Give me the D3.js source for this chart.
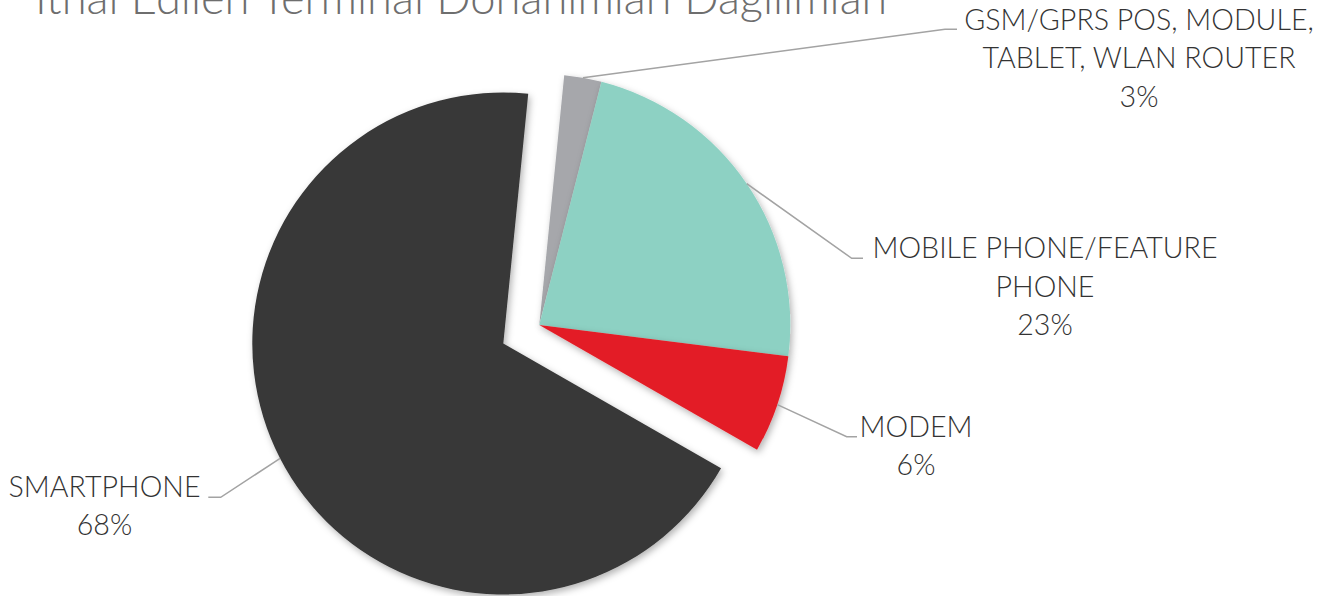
<!DOCTYPE html>
<html>
<head>
<meta charset="utf-8">
<script src="https://cdn.jsdelivr.net/npm/d3@7"></script>
<style>
  html, body { margin: 0; padding: 0; background: #ffffff; overflow: hidden; }
  svg { display: block; }
  text { font-family: Lato, "Open Sans", sans-serif; font-weight: 300; }
</style>
</head>
<body>
<svg id="chart" width="1337" height="596"></svg>
<script>
// ---- data ----
const titleText = "İthal Edilen Terminal Donanımları Dağılımları";
const categories = ["GSM/GPRS POS, MODULE, TABLET, WLAN ROUTER", "MOBILE PHONE/FEATURE PHONE", "MODEM", "SMARTPHONE"];
const labelLines = [
  ["GSM/GPRS POS, MODULE,", "TABLET, WLAN ROUTER"],
  ["MOBILE PHONE/FEATURE", "PHONE"],
  ["MODEM"],
  ["SMARTPHONE"]
];
const values = [2.4, 23.0, 6.3, 68.3];
const percentLabels = ["3%", "23%", "6%", "68%"];
const colors = ["#a6a7ab", "#8dd1c3", "#e31e26", "#373737"];
const exploded = [false, false, false, true];

// ---- layout ----
const svg = d3.select("#chart");
const cx = 539.3, cy = 325, radius = 251, explodeDist = 40.5;
const startOffset = 5.7 * Math.PI / 180;

const labelPos = [
  { x: 1139, y: 30,    elbow: [945, 29.3],  end: [957, 29.3] },
  { x: 1045, y: 258.3, elbow: [851.7, 258.3], end: [863, 258.3] },
  { x: 916,  y: 436.7, elbow: [846.7, 436.7], end: [857, 436.7] },
  { x: 104.5, y: 497,  elbow: [220.7, 497.3], end: [208.3, 497.3] }
];
const lineHeight = 38.3;
const fontSize = 28.6;

const defs = svg.append("defs");
const f = defs.append("filter").attr("id", "shadow")
  .attr("x", "-20%").attr("y", "-20%").attr("width", "140%").attr("height", "140%");
f.append("feDropShadow").attr("dx", 2).attr("dy", 3).attr("stdDeviation", 3.5)
  .attr("flood-color", "#000").attr("flood-opacity", 0.3);

const pie = d3.pie().sort(null).value(d => d)
  .startAngle(startOffset).endAngle(startOffset + 2 * Math.PI);
const arcs = pie(values);
const arc = d3.arc().innerRadius(0).outerRadius(radius);

// title (cut off at the top edge, as in the reference)
const title = svg.append("text")
  .attr("x", 35).attr("y", 14)
  .attr("fill", "#6e6e6e")
  .attr("font-size", 40)
  .text(titleText);
const tw = title.node().getComputedTextLength();
title.attr("font-size", 40 * 853 / tw);

const g = svg.append("g").attr("transform", `translate(${cx},${cy})`);

function offsetOf(d, i) {
  if (!exploded[i]) return [0, 0];
  const a = (d.startAngle + d.endAngle) / 2;
  return [explodeDist * Math.sin(a), -explodeDist * Math.cos(a)];
}

g.selectAll("path.slice")
  .data(arcs)
  .join("path")
  .attr("class", "slice")
  .attr("filter", "url(#shadow)")
  .attr("fill", (d, i) => colors[i])
  .attr("transform", (d, i) => {
    const o = offsetOf(d, i);
    return `translate(${o[0]},${o[1]})`;
  })
  .attr("d", arc);

// leader lines from the middle of each slice's outer edge
arcs.forEach((d, i) => {
  const a = (d.startAngle + d.endAngle) / 2;
  const o = offsetOf(d, i);
  const sx = cx + o[0] + radius * Math.sin(a);
  const sy = cy + o[1] - radius * Math.cos(a);
  const lp = labelPos[i];
  svg.append("path")
    .attr("d", d3.line()([[sx, sy], lp.elbow, lp.end]))
    .attr("fill", "none")
    .attr("stroke", "#a3a3a3")
    .attr("stroke-width", 1.5);
});

// labels
arcs.forEach((d, i) => {
  const lp = labelPos[i];
  const lines = labelLines[i].concat([percentLabels[i]]);
  const t = svg.append("text")
    .attr("text-anchor", "middle")
    .attr("fill", "#333333")
    .attr("font-size", fontSize);
  lines.forEach((ln, k) => {
    t.append("tspan").attr("x", lp.x).attr("y", lp.y + k * lineHeight).text(ln);
  });
});
</script>
</body>
</html>
